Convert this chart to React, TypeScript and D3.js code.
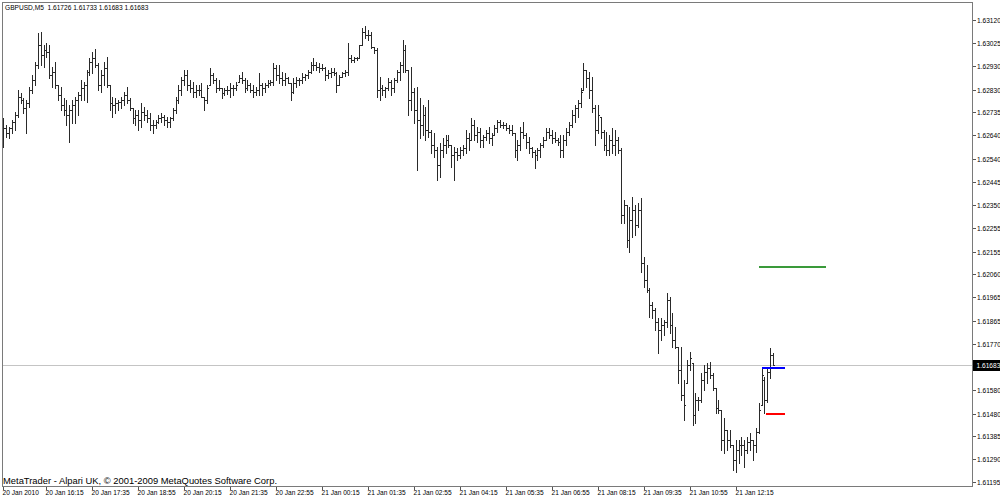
import React from "react";
import * as d3 from "d3";

const symbolLabel = "GBPUSD,M5";
const lastQuote = [1.61726, 1.61733, 1.61683, 1.61683];

const opens = [
  1.62620, 1.62670, 1.62649, 1.62670, 1.62695, 1.62724, 1.62799, 1.62787, 1.62753, 1.62774,
  1.62828, 1.62870, 1.62932, 1.63016, 1.62974, 1.62995, 1.62987, 1.62891, 1.62903, 1.62849,
  1.62807, 1.62766, 1.62745, 1.62724, 1.62745, 1.62766, 1.62787, 1.62807, 1.62837, 1.62849,
  1.62903, 1.62945, 1.62962, 1.62932, 1.62849, 1.62891, 1.62920, 1.62849, 1.62774, 1.62766,
  1.62774, 1.62778, 1.62787, 1.62807, 1.62787, 1.62753, 1.62712, 1.62724, 1.62703, 1.62737,
  1.62724, 1.62712, 1.62682, 1.62682, 1.62695, 1.62712, 1.62716, 1.62703, 1.62695, 1.62712,
  1.62745, 1.62787, 1.62828, 1.62870, 1.62891, 1.62849, 1.62837, 1.62820, 1.62828, 1.62828,
  1.62799, 1.62787, 1.62849, 1.62891, 1.62870, 1.62837, 1.62837, 1.62816, 1.62828, 1.62828,
  1.62837, 1.62837, 1.62862, 1.62878, 1.62870, 1.62837, 1.62849, 1.62828, 1.62820, 1.62828,
  1.62849, 1.62837, 1.62849, 1.62857, 1.62862, 1.62920, 1.62891, 1.62878, 1.62870, 1.62878,
  1.62857, 1.62820, 1.62857, 1.62870, 1.62870, 1.62882, 1.62891, 1.62903, 1.62932, 1.62932,
  1.62924, 1.62920, 1.62920, 1.62891, 1.62899, 1.62903, 1.62899, 1.62849, 1.62882, 1.62899,
  1.62903, 1.62962, 1.62953, 1.62962, 1.62962, 1.63016, 1.63070, 1.63057, 1.63057, 1.63007,
  1.62995, 1.62828, 1.62837, 1.62828, 1.62837, 1.62862, 1.62837, 1.62870, 1.62903, 1.62932,
  1.62995, 1.62912, 1.62787, 1.62820, 1.62745, 1.62703, 1.62682, 1.62724, 1.62662, 1.62653,
  1.62599, 1.62578, 1.62516, 1.62578, 1.62599, 1.62620, 1.62599, 1.62557, 1.62570, 1.62557,
  1.62578, 1.62587, 1.62628, 1.62620, 1.62682, 1.62641, 1.62653, 1.62620, 1.62632, 1.62649,
  1.62628, 1.62641, 1.62670, 1.62695, 1.62682, 1.62682, 1.62670, 1.62662, 1.62649, 1.62578,
  1.62599, 1.62653, 1.62641, 1.62612, 1.62587, 1.62570, 1.62557, 1.62578, 1.62599, 1.62620,
  1.62653, 1.62641, 1.62628, 1.62620, 1.62612, 1.62578, 1.62620, 1.62653, 1.62682, 1.62724,
  1.62753, 1.62774, 1.62828, 1.62912, 1.62878, 1.62828, 1.62753, 1.62662, 1.62716, 1.62653,
  1.62599, 1.62578, 1.62620, 1.62599, 1.62620, 1.62578, 1.62307, 1.62349, 1.62203, 1.62287,
  1.62328, 1.62266, 1.62328, 1.62107, 1.62037, 1.61995, 1.61932, 1.61912, 1.61862, 1.61828,
  1.61849, 1.61862, 1.61953, 1.61849, 1.61787, 1.61757, 1.61662, 1.61557, 1.61607, 1.61682,
  1.61691, 1.61474, 1.61537, 1.61537, 1.61620, 1.61653, 1.61670, 1.61641, 1.61587, 1.61503,
  1.61495, 1.61370, 1.61412, 1.61370, 1.61349, 1.61287, 1.61328, 1.61349, 1.61349, 1.61328,
  1.61362, 1.61370, 1.61349, 1.61403, 1.61516, 1.61620, 1.61537, 1.61653, 1.61726,
];

const highs = [
  1.62712, 1.62682, 1.62674, 1.62703, 1.62737, 1.62828, 1.62816, 1.62795, 1.62787, 1.62841,
  1.62891, 1.62945, 1.63066, 1.63070, 1.63016, 1.63024, 1.63016, 1.62924, 1.62945, 1.62849,
  1.62841, 1.62795, 1.62787, 1.62766, 1.62787, 1.62799, 1.62820, 1.62870, 1.62862, 1.62912,
  1.62962, 1.62987, 1.62999, 1.62941, 1.62912, 1.62945, 1.62966, 1.62849, 1.62799, 1.62795,
  1.62787, 1.62799, 1.62820, 1.62841, 1.62795, 1.62753, 1.62745, 1.62745, 1.62774, 1.62757,
  1.62745, 1.62732, 1.62703, 1.62703, 1.62724, 1.62732, 1.62724, 1.62716, 1.62716, 1.62753,
  1.62799, 1.62849, 1.62882, 1.62912, 1.62912, 1.62870, 1.62862, 1.62849, 1.62849, 1.62857,
  1.62799, 1.62849, 1.62920, 1.62899, 1.62878, 1.62870, 1.62837, 1.62837, 1.62845, 1.62857,
  1.62849, 1.62862, 1.62891, 1.62903, 1.62878, 1.62870, 1.62857, 1.62849, 1.62841, 1.62899,
  1.62857, 1.62857, 1.62870, 1.62870, 1.62941, 1.62932, 1.62932, 1.62903, 1.62899, 1.62882,
  1.62857, 1.62878, 1.62882, 1.62878, 1.62899, 1.62895, 1.62912, 1.62945, 1.62962, 1.62945,
  1.62941, 1.62937, 1.62924, 1.62912, 1.62920, 1.62920, 1.62903, 1.62891, 1.62903, 1.62912,
  1.63024, 1.62974, 1.62966, 1.62966, 1.63016, 1.63087, 1.63095, 1.63078, 1.63070, 1.63007,
  1.63003, 1.62882, 1.62849, 1.62841, 1.62878, 1.62870, 1.62878, 1.62912, 1.62945, 1.63037,
  1.63016, 1.62912, 1.62924, 1.62837, 1.62841, 1.62795, 1.62766, 1.62757, 1.62787, 1.62662,
  1.62649, 1.62591, 1.62607, 1.62628, 1.62641, 1.62641, 1.62599, 1.62591, 1.62587, 1.62591,
  1.62599, 1.62662, 1.62649, 1.62712, 1.62703, 1.62674, 1.62670, 1.62641, 1.62662, 1.62674,
  1.62649, 1.62682, 1.62703, 1.62703, 1.62695, 1.62691, 1.62682, 1.62682, 1.62649, 1.62620,
  1.62674, 1.62695, 1.62649, 1.62632, 1.62591, 1.62578, 1.62587, 1.62607, 1.62632, 1.62670,
  1.62670, 1.62662, 1.62653, 1.62628, 1.62641, 1.62641, 1.62670, 1.62695, 1.62745, 1.62766,
  1.62787, 1.62837, 1.62941, 1.62912, 1.62903, 1.62882, 1.62766, 1.62766, 1.62716, 1.62662,
  1.62653, 1.62641, 1.62670, 1.62662, 1.62632, 1.62587, 1.62370, 1.62349, 1.62341, 1.62382,
  1.62349, 1.62357, 1.62378, 1.62132, 1.62099, 1.62003, 1.61945, 1.61920, 1.61878, 1.61878,
  1.61870, 1.61982, 1.61966, 1.61899, 1.61841, 1.61757, 1.61757, 1.61620, 1.61703, 1.61737,
  1.61691, 1.61566, 1.61549, 1.61649, 1.61682, 1.61691, 1.61695, 1.61649, 1.61587, 1.61537,
  1.61495, 1.61462, 1.61412, 1.61412, 1.61349, 1.61370, 1.61370, 1.61382, 1.61370, 1.61382,
  1.61399, 1.61370, 1.61420, 1.61524, 1.61670, 1.61632, 1.61674, 1.61753, 1.61733,
];

const lows = [
  1.62591, 1.62632, 1.62628, 1.62649, 1.62662, 1.62716, 1.62774, 1.62732, 1.62649, 1.62757,
  1.62816, 1.62849, 1.62920, 1.62932, 1.62924, 1.62966, 1.62878, 1.62841, 1.62837, 1.62787,
  1.62745, 1.62724, 1.62682, 1.62612, 1.62691, 1.62691, 1.62724, 1.62787, 1.62787, 1.62778,
  1.62891, 1.62899, 1.62924, 1.62828, 1.62820, 1.62849, 1.62841, 1.62745, 1.62716, 1.62732,
  1.62745, 1.62753, 1.62766, 1.62774, 1.62745, 1.62691, 1.62682, 1.62662, 1.62674, 1.62703,
  1.62695, 1.62662, 1.62649, 1.62670, 1.62691, 1.62695, 1.62682, 1.62674, 1.62674, 1.62703,
  1.62732, 1.62774, 1.62807, 1.62849, 1.62828, 1.62820, 1.62799, 1.62799, 1.62807, 1.62799,
  1.62745, 1.62774, 1.62849, 1.62857, 1.62820, 1.62828, 1.62795, 1.62807, 1.62812, 1.62799,
  1.62807, 1.62828, 1.62862, 1.62857, 1.62820, 1.62828, 1.62820, 1.62799, 1.62807, 1.62807,
  1.62807, 1.62820, 1.62841, 1.62849, 1.62849, 1.62870, 1.62857, 1.62849, 1.62849, 1.62857,
  1.62787, 1.62816, 1.62841, 1.62849, 1.62857, 1.62870, 1.62878, 1.62899, 1.62912, 1.62912,
  1.62903, 1.62912, 1.62870, 1.62878, 1.62882, 1.62891, 1.62820, 1.62849, 1.62882, 1.62887,
  1.62891, 1.62945, 1.62945, 1.62953, 1.62962, 1.63016, 1.63045, 1.63037, 1.63003, 1.62982,
  1.62799, 1.62787, 1.62807, 1.62799, 1.62828, 1.62807, 1.62820, 1.62862, 1.62870, 1.62903,
  1.62903, 1.62724, 1.62745, 1.62691, 1.62495, 1.62628, 1.62641, 1.62620, 1.62632, 1.62566,
  1.62549, 1.62453, 1.62466, 1.62549, 1.62566, 1.62591, 1.62507, 1.62453, 1.62537, 1.62545,
  1.62557, 1.62566, 1.62578, 1.62620, 1.62620, 1.62612, 1.62591, 1.62591, 1.62620, 1.62607,
  1.62599, 1.62641, 1.62653, 1.62674, 1.62670, 1.62662, 1.62649, 1.62641, 1.62549, 1.62537,
  1.62578, 1.62628, 1.62587, 1.62566, 1.62549, 1.62503, 1.62537, 1.62549, 1.62591, 1.62620,
  1.62628, 1.62607, 1.62612, 1.62599, 1.62549, 1.62549, 1.62599, 1.62641, 1.62674, 1.62695,
  1.62716, 1.62757, 1.62828, 1.62841, 1.62795, 1.62737, 1.62599, 1.62649, 1.62628, 1.62578,
  1.62557, 1.62557, 1.62566, 1.62557, 1.62566, 1.62274, 1.62274, 1.62174, 1.62153, 1.62216,
  1.62224, 1.62257, 1.62070, 1.62007, 1.61987, 1.61882, 1.61878, 1.61828, 1.61732, 1.61787,
  1.61807, 1.61841, 1.61816, 1.61757, 1.61753, 1.61607, 1.61537, 1.61453, 1.61607, 1.61662,
  1.61432, 1.61441, 1.61495, 1.61528, 1.61578, 1.61607, 1.61628, 1.61578, 1.61482, 1.61482,
  1.61328, 1.61316, 1.61328, 1.61341, 1.61245, 1.61237, 1.61274, 1.61307, 1.61257, 1.61316,
  1.61328, 1.61287, 1.61320, 1.61399, 1.61516, 1.61482, 1.61528, 1.61628, 1.61683,
];

const closes = [
  1.62670, 1.62649, 1.62670, 1.62695, 1.62724, 1.62799, 1.62787, 1.62753, 1.62774, 1.62828,
  1.62870, 1.62932, 1.63016, 1.62974, 1.62995, 1.62987, 1.62891, 1.62903, 1.62849, 1.62807,
  1.62766, 1.62745, 1.62724, 1.62745, 1.62766, 1.62787, 1.62807, 1.62837, 1.62849, 1.62903,
  1.62945, 1.62962, 1.62932, 1.62849, 1.62891, 1.62920, 1.62849, 1.62774, 1.62766, 1.62774,
  1.62778, 1.62787, 1.62807, 1.62787, 1.62753, 1.62712, 1.62724, 1.62703, 1.62737, 1.62724,
  1.62712, 1.62682, 1.62682, 1.62695, 1.62712, 1.62716, 1.62703, 1.62695, 1.62712, 1.62745,
  1.62787, 1.62828, 1.62870, 1.62891, 1.62849, 1.62837, 1.62820, 1.62828, 1.62828, 1.62799,
  1.62787, 1.62837, 1.62891, 1.62870, 1.62837, 1.62837, 1.62816, 1.62828, 1.62828, 1.62837,
  1.62837, 1.62849, 1.62878, 1.62870, 1.62837, 1.62849, 1.62828, 1.62820, 1.62828, 1.62849,
  1.62837, 1.62849, 1.62857, 1.62862, 1.62920, 1.62891, 1.62878, 1.62870, 1.62878, 1.62857,
  1.62820, 1.62857, 1.62870, 1.62870, 1.62882, 1.62891, 1.62903, 1.62932, 1.62932, 1.62924,
  1.62920, 1.62920, 1.62891, 1.62899, 1.62903, 1.62899, 1.62849, 1.62882, 1.62899, 1.62903,
  1.62962, 1.62953, 1.62962, 1.62962, 1.63016, 1.63070, 1.63057, 1.63057, 1.63007, 1.62995,
  1.62828, 1.62837, 1.62828, 1.62837, 1.62862, 1.62837, 1.62870, 1.62903, 1.62932, 1.62995,
  1.62912, 1.62787, 1.62820, 1.62745, 1.62703, 1.62682, 1.62724, 1.62662, 1.62653, 1.62599,
  1.62578, 1.62516, 1.62578, 1.62599, 1.62620, 1.62599, 1.62557, 1.62570, 1.62557, 1.62578,
  1.62587, 1.62628, 1.62620, 1.62682, 1.62641, 1.62653, 1.62620, 1.62632, 1.62649, 1.62628,
  1.62641, 1.62670, 1.62695, 1.62682, 1.62682, 1.62670, 1.62662, 1.62649, 1.62578, 1.62599,
  1.62653, 1.62641, 1.62612, 1.62587, 1.62570, 1.62557, 1.62578, 1.62599, 1.62620, 1.62653,
  1.62641, 1.62628, 1.62620, 1.62612, 1.62578, 1.62620, 1.62653, 1.62682, 1.62724, 1.62753,
  1.62774, 1.62820, 1.62912, 1.62878, 1.62828, 1.62753, 1.62662, 1.62724, 1.62653, 1.62599,
  1.62578, 1.62620, 1.62599, 1.62620, 1.62578, 1.62307, 1.62349, 1.62203, 1.62287, 1.62328,
  1.62266, 1.62328, 1.62107, 1.62037, 1.61995, 1.61932, 1.61912, 1.61862, 1.61828, 1.61849,
  1.61862, 1.61953, 1.61849, 1.61787, 1.61757, 1.61662, 1.61557, 1.61516, 1.61682, 1.61712,
  1.61474, 1.61537, 1.61537, 1.61620, 1.61653, 1.61670, 1.61641, 1.61587, 1.61503, 1.61495,
  1.61370, 1.61412, 1.61370, 1.61349, 1.61287, 1.61328, 1.61349, 1.61349, 1.61328, 1.61362,
  1.61370, 1.61349, 1.61403, 1.61495, 1.61641, 1.61537, 1.61653, 1.61724, 1.61683,
];

const timeTickBars = [0, 15, 31, 47, 63, 79, 95, 111, 127, 143, 159, 175, 191, 207, 223, 239, 255];
const timeTickLabels = [
  "20 Jan 2010", "20 Jan 16:15", "20 Jan 17:35", "20 Jan 18:55", "20 Jan 20:15", "20 Jan 21:35",
  "20 Jan 22:55", "21 Jan 00:15", "21 Jan 01:35", "21 Jan 02:55", "21 Jan 04:15", "21 Jan 05:35",
  "21 Jan 06:55", "21 Jan 08:15", "21 Jan 09:35", "21 Jan 10:55", "21 Jan 12:15",
];

const priceTickLabels = [
  "1.63120", "1.63025", "1.62930", "1.62830", "1.62735", "1.62640", "1.62540", "1.62445",
  "1.62350", "1.62255", "1.62155", "1.62060", "1.61965", "1.61865", "1.61770", "1.61580",
  "1.61480", "1.61385", "1.61290", "1.61195",
];

const currentPrice = 1.61683;

const levelNames = ["target", "entry", "stop"];
const levelPrices = [1.62091, 1.61669, 1.6148];
const levelStartBars = [263.3, 264.3, 265.4];
const levelEndBars = [286.3, 272.3, 272.3];

const copyrightText = "MetaTrader - Alpari UK, \u00A9 2001-2009 MetaQuotes Software Corp.";

export default function App() {
  const W = 1000;
  const H = 497;
  const left = 2.5;
  const right = 972.5;
  const top = 2.5;
  const bottom = 486.5;
  const font = "'Liberation Sans', Arial, sans-serif";
  const fs = 6.6;

  const x = d3.scaleLinear().domain([0, 268]).range([3.3, 3.3 + 268 * 2.872]);
  const y = d3.scaleLinear().domain([1.61195, 1.6312]).range([482, 20]);
  const col = (i: number) => Math.round(x(i));
  const row = (p: number) => Math.round(y(p));

  let barPath = "";
  opens.forEach((o, i) => {
    const cx = col(i) + 0.5;
    const yh = row(highs[i]);
    const yl = row(lows[i]);
    barPath += `M${cx},${yh}V${yl + 1}`;
    const yo = row(o) + 0.5;
    const yc = row(closes[i]) + 0.5;
    barPath += `M${cx - 1.5},${yo}H${cx - 0.5}`;
    barPath += `M${cx + 0.5},${yc}H${cx + 1.5}`;
  });

  const levelColor: Record<string, string> = {
    target: "#3a9a3a",
    entry: "#0000ff",
    stop: "#ff0000",
  };

  const curY = row(currentPrice) + 0.5;
  const header = `${symbolLabel}  ${lastQuote.map((v) => v.toFixed(5)).join(" ")}`;

  return (
    <svg
      width={W}
      height={H}
      viewBox={`0 0 ${W} ${H}`}
      style={{ position: "fixed", left: 0, top: 0, background: "#fff" }}
    >
      <rect x={0} y={0} width={W} height={H} fill="#fff" />
      {/* current price line */}
      <line x1={left} x2={right} y1={curY} y2={curY} stroke="#c4c4c4" strokeWidth={1} shapeRendering="crispEdges" />
      {/* bars */}
      <path d={barPath} stroke="#2a2a2a" strokeWidth={1} fill="none" shapeRendering="crispEdges" />
      {/* trade levels */}
      {levelNames.map((name, k) => {
        const ly = row(levelPrices[k]);
        return (
          <line
            key={name}
            x1={x(levelStartBars[k])}
            x2={x(levelEndBars[k])}
            y1={ly}
            y2={ly}
            stroke={levelColor[name]}
            strokeWidth={2}
            shapeRendering="crispEdges"
          />
        );
      })}
      {/* frame */}
      <rect
        x={left}
        y={top}
        width={right - left}
        height={bottom - top}
        fill="none"
        stroke="#7a7a7a"
        strokeWidth={1}
        shapeRendering="crispEdges"
      />
      {/* header */}
      <text x={5} y={9.5} fontFamily={font} fontSize={fs} fill="#000" style={{ whiteSpace: "pre" }}>
        {header}
      </text>
      {/* copyright */}
      <text x={3} y={483.5} fontFamily={font} fontSize={9.3} fill="#000" textLength={274} lengthAdjust="spacingAndGlyphs">
        {copyrightText}
      </text>
      {/* price axis */}
      {priceTickLabels.map((lab) => {
        const ty = row(+lab) + 0.5;
        return (
          <g key={lab}>
            <line x1={right} x2={right + 3} y1={ty} y2={ty} stroke="#555" strokeWidth={1} shapeRendering="crispEdges" />
            <text x={977} y={ty + 2.4} fontFamily={font} fontSize={fs} fill="#000">
              {lab}
            </text>
          </g>
        );
      })}
      {/* current price box */}
      <rect x={973} y={curY - 5.5} width={27} height={11} fill="#000" />
      <text x={976.5} y={curY + 2.4} fontFamily={font} fontSize={fs} fill="#fff">
        {currentPrice.toFixed(5)}
      </text>
      {/* time axis */}
      {timeTickBars.map((b, k) => {
        const tx = col(b) + 0.5;
        return (
          <g key={b}>
            <line x1={tx} x2={tx} y1={bottom} y2={bottom + 3} stroke="#555" strokeWidth={1} shapeRendering="crispEdges" />
            <text x={tx - 1} y={494.5} fontFamily={font} fontSize={fs} fill="#000">
              {timeTickLabels[k]}
            </text>
          </g>
        );
      })}
    </svg>
  );
}
